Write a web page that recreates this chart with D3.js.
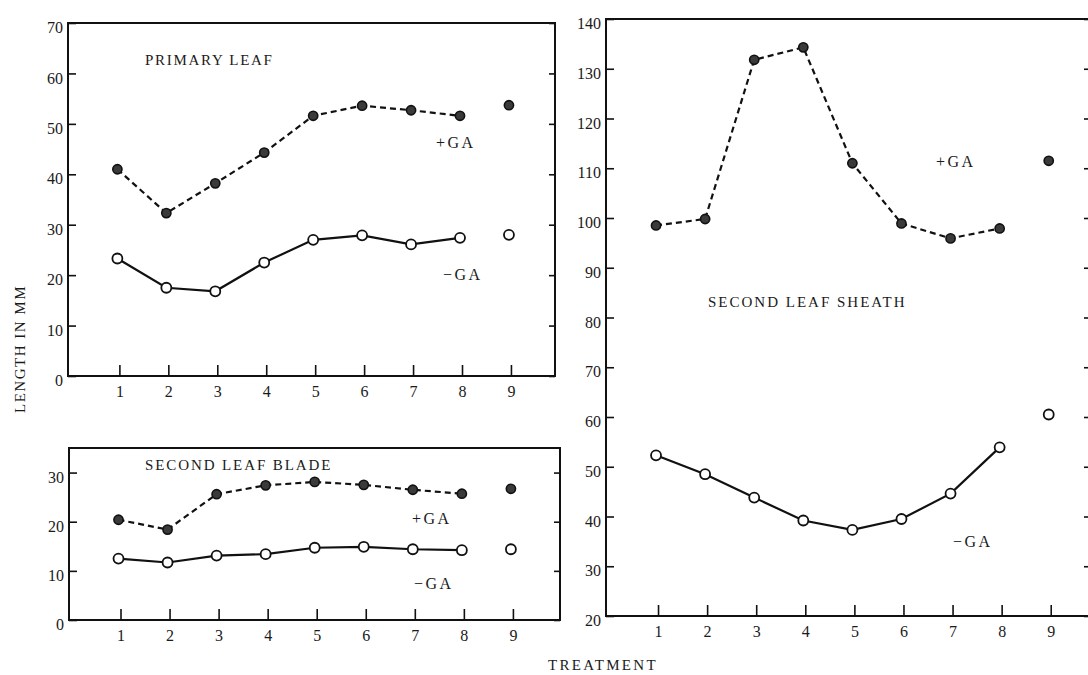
<!DOCTYPE html>
<html>
<head>
<meta charset="utf-8">
<script src="https://cdn.jsdelivr.net/npm/d3@7"></script>
<style>
  body { margin: 0; background: #fff; }
  svg text { font-family: "Liberation Serif", "DejaVu Serif", serif; fill: #1a1a1a; }
</style>
</head>
<body>
<div id="chart"></div>
<script>
// data (treatment 9 is plotted as a lone point)
var treatments = [1, 2, 3, 4, 5, 6, 7, 8, 9];

var primaryPlusGA  = [41.0, 32.3, 38.2, 44.3, 51.6, 53.6, 52.7, 51.6, 53.7];
var primaryMinusGA = [23.3, 17.5, 16.8, 22.5, 27.0, 27.9, 26.1, 27.4, 28.0];

var bladePlusGA  = [20.4, 18.4, 25.6, 27.4, 28.1, 27.5, 26.5, 25.7, 26.7];
var bladeMinusGA = [12.5, 11.7, 13.1, 13.4, 14.7, 14.9, 14.4, 14.2, 14.4];

var sheathPlusGA  = [98.5, 99.8, 131.8, 134.3, 111.0, 98.9, 95.9, 97.9, 111.5];
var sheathMinusGA = [52.3, 48.5, 43.8, 39.2, 37.3, 39.5, 44.6, 53.9, 60.5];

var primaryYTicks = [0, 10, 20, 30, 40, 50, 60, 70];
var bladeYTicks = [0, 10, 20, 30];
var sheathYTicks = [20, 30, 40, 50, 60, 70, 80, 90, 100, 110, 120, 130, 140];

var svg = d3.select("#chart").append("svg")
    .attr("width", 1088)
    .attr("height", 675);

// one framed panel
function drawPanel(p) {
  var x = d3.scaleLinear().domain(p.xDomain).range([p.left, p.right]);
  var y = d3.scaleLinear().domain(p.yDomain).range([p.bottom, p.top]);
  var g = svg.append("g");

  g.append("rect")
      .attr("x", p.left).attr("y", p.top)
      .attr("width", p.right - p.left).attr("height", p.bottom - p.top)
      .attr("fill", "none").attr("stroke", "#111").attr("stroke-width", 2);

  // left axis, ticks pointing inward
  var yl = g.append("g")
      .attr("transform", "translate(" + p.left + ",0)")
      .call(d3.axisLeft(y).tickValues(p.yTicks).tickSize(-8).tickPadding(5));
  // right axis, ticks only
  var yr = g.append("g")
      .attr("transform", "translate(" + p.right + ",0)")
      .call(d3.axisRight(y).tickValues(p.yTicks).tickSize(-6).tickFormat(""));
  var xb = g.append("g")
      .attr("transform", "translate(0," + p.bottom + ")")
      .call(d3.axisBottom(x).tickValues(treatments).tickSize(-11).tickPadding(10));

  [yl, yr, xb].forEach(function(a) {
    a.select(".domain").remove();
    a.selectAll("line").attr("stroke", "#111").attr("stroke-width", 1.6);
    a.selectAll("text").attr("font-size", 16).attr("fill", "#1a1a1a")
      .style("font-family", "Liberation Serif, serif");
  });
  // printed labels sit a little below their ticks
  yl.selectAll("text").attr("dy", "0.6em");

  var line = d3.line()
      .x(function(d, i) { return x(treatments[i]) - 2; })
      .y(function(d) { return y(d); });

  // only treatments 1-8 are joined
  g.append("path")
      .datum(p.plus.slice(0, 8))
      .attr("d", line)
      .attr("fill", "none").attr("stroke", "#111")
      .attr("stroke-width", 2.2).attr("stroke-dasharray", "6,4");
  g.append("path")
      .datum(p.minus.slice(0, 8))
      .attr("d", line)
      .attr("fill", "none").attr("stroke", "#111")
      .attr("stroke-width", 2.2);

  g.selectAll(".plus").data(p.plus).enter().append("circle")
      .attr("cx", function(d, i) { return x(treatments[i]) - 2; })
      .attr("cy", function(d) { return y(d); })
      .attr("r", 4.6)
      .attr("fill", "#3a3a3a").attr("stroke", "#111").attr("stroke-width", 1.6);
  g.selectAll(".minus").data(p.minus).enter().append("circle")
      .attr("cx", function(d, i) { return x(treatments[i]) - 2; })
      .attr("cy", function(d) { return y(d); })
      .attr("r", 5)
      .attr("fill", "#fff").attr("stroke", "#111").attr("stroke-width", 1.8);

  p.labels.forEach(function(l) {
    g.append("text")
        .attr("x", l[1]).attr("y", l[2])
        .attr("font-size", l[3])
        .attr("letter-spacing", l[4])
        .text(l[0]);
  });
}

drawPanel({
  left: 68, right: 555, top: 23, bottom: 376,
  xDomain: [-0.05, 9.9], yDomain: [0, 70], yTicks: primaryYTicks,
  plus: primaryPlusGA, minus: primaryMinusGA,
  labels: [["PRIMARY  LEAF", 145, 65, 15, 1.7],
           ["+GA", 436, 148, 16, 2.5], ["\u2212GA", 443, 280, 16, 2.5]]
});

drawPanel({
  left: 69, right: 560, top: 448, bottom: 620,
  xDomain: [-0.05, 9.96], yDomain: [0, 35], yTicks: bladeYTicks,
  plus: bladePlusGA, minus: bladeMinusGA,
  labels: [["SECOND  LEAF  BLADE", 145, 470, 15, 1.9],
           ["+GA", 412, 524, 16, 2.5], ["\u2212GA", 414, 589, 16, 2.5]]
});

drawPanel({
  left: 606, right: 1090, top: 19, bottom: 616,
  xDomain: [-0.06, 9.8], yDomain: [20, 140], yTicks: sheathYTicks,
  plus: sheathPlusGA, minus: sheathMinusGA,
  labels: [["SECOND  LEAF  SHEATH", 708, 307, 15, 2],
           ["+GA", 936, 167, 16, 2.5], ["\u2212GA", 953, 547, 16, 2.5]]
});

svg.append("text")
    .attr("transform", "translate(25,349) rotate(-90)")
    .attr("text-anchor", "middle")
    .attr("font-size", 15)
    .attr("letter-spacing", 1.5)
    .text("LENGTH  IN  MM");

svg.append("text")
    .attr("x", 548).attr("y", 670)
    .attr("font-size", 15)
    .attr("letter-spacing", 2.3)
    .text("TREATMENT");
</script>
</body>
</html>
